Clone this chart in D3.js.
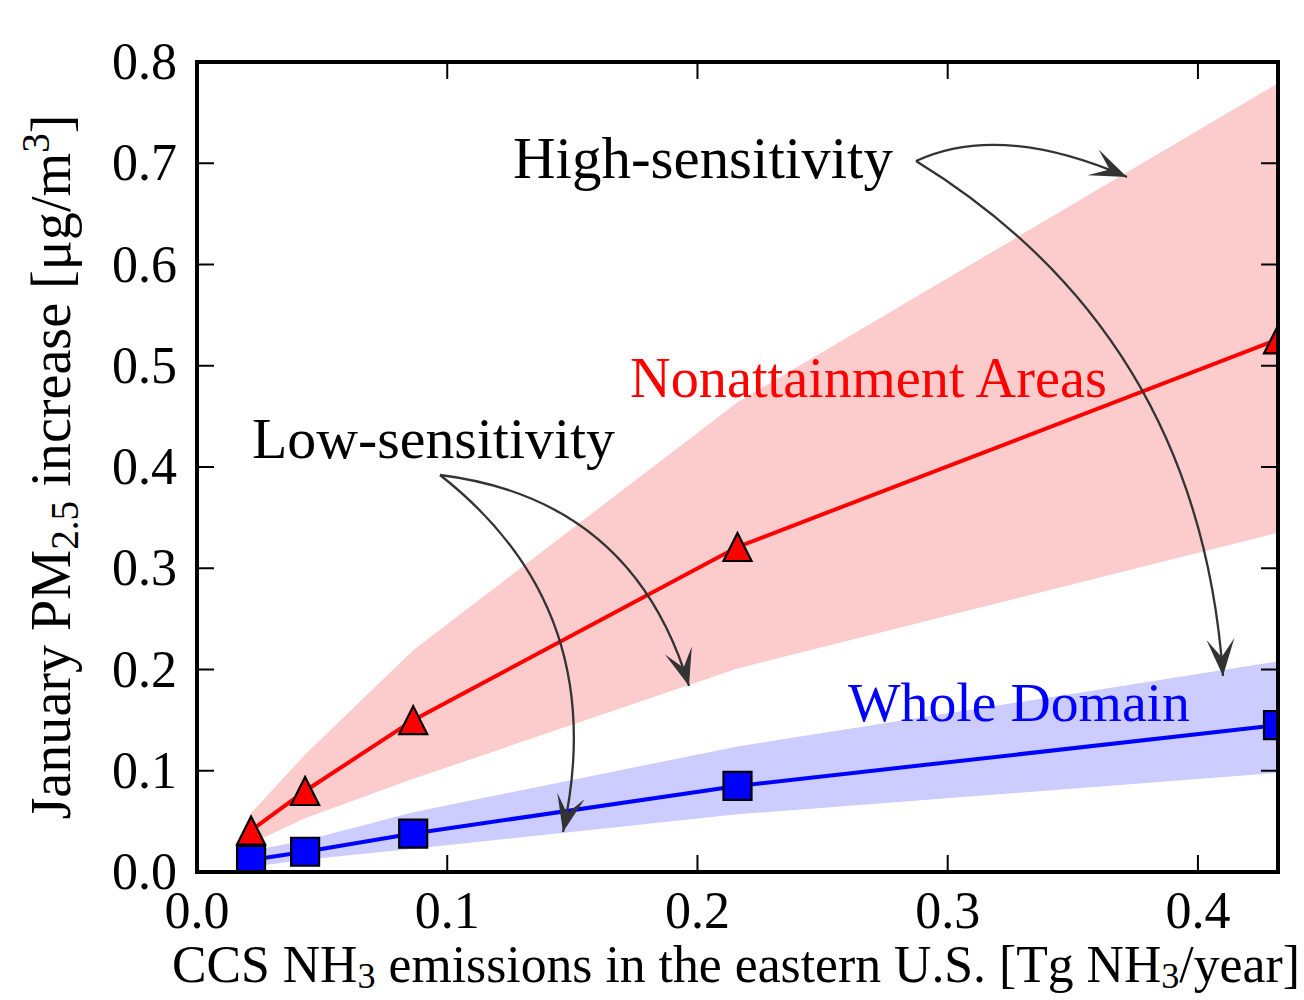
<!DOCTYPE html>
<html><head><meta charset="utf-8">
<script src="https://cdn.jsdelivr.net/npm/d3@7"></script>
<style>body{margin:0;background:#fff} svg{display:block}</style>
</head><body><svg id="chart" width="1304" height="1000"></svg>
<script>
// ---- data ----
const emissions = [0.0216, 0.0432, 0.0864, 0.216, 0.432];
const nonattainMid  = [0.041, 0.080, 0.150, 0.321, 0.526];
const nonattainLow  = [0.028, 0.053, 0.092, 0.201, 0.335];
const nonattainHigh = [0.058, 0.116, 0.219, 0.464, 0.779];
const domainMid  = [0.012, 0.020, 0.038, 0.085, 0.145];
const domainLow  = [0.005, 0.012, 0.023, 0.057, 0.098];
const domainHigh = [0.021, 0.031, 0.059, 0.124, 0.208];
const xTicks = [0.0, 0.1, 0.2, 0.3, 0.4];
const yTicks = [0.0, 0.1, 0.2, 0.3, 0.4, 0.5, 0.6, 0.7, 0.8];
const xTickLabels = ["0.0", "0.1", "0.2", "0.3", "0.4"];
const yTickLabels = ["0.0", "0.1", "0.2", "0.3", "0.4", "0.5", "0.6", "0.7", "0.8"];

const FONT = "'Liberation Serif', 'Times New Roman', serif";
const svg = d3.select("#chart");
const L = 197, R = 1278, T = 62, B = 872;
const x = d3.scaleLinear().domain([0, 0.432]).range([L, R]);
const y = d3.scaleLinear().domain([0, 0.8]).range([B, T]);

svg.append("defs").append("clipPath").attr("id", "plotclip")
  .append("rect").attr("x", L).attr("y", T).attr("width", R - L).attr("height", B - T);

const plot = svg.append("g").attr("clip-path", "url(#plotclip)");

function band(lo, hi, color) {
  const data = emissions.map((e, i) => ({x: e, lo: lo[i], hi: hi[i]}));
  plot.append("path").datum(data)
    .attr("d", d3.area().x(d => x(d.x)).y0(d => y(d.lo)).y1(d => y(d.hi)))
    .attr("fill", color).attr("stroke", "none");
}
band(nonattainLow, nonattainHigh, "#fccbcb");
band(domainLow, domainHigh, "#ccccff");

function series(vals, color, shape) {
  const data = emissions.map((e, i) => ({x: e, v: vals[i]}));
  plot.append("path").datum(data)
    .attr("d", d3.line().x(d => x(d.x)).y(d => y(d.v)))
    .attr("fill", "none").attr("stroke", color).attr("stroke-width", 4);
  const s = 14;
  plot.selectAll(null).data(data).enter().append("path")
    .attr("d", d => {
      const cx = x(d.x), cy = y(d.v);
      if (shape === "tri") return `M${cx},${cy - s}L${cx + s},${cy + s}L${cx - s},${cy + s}Z`;
      return `M${cx - s},${cy - s}H${cx + s}V${cy + s}H${cx - s}Z`;
    })
    .attr("fill", color).attr("stroke", "#000").attr("stroke-width", 2.2)
    .attr("stroke-linejoin", "miter");
}
series(nonattainMid, "#ff0000", "tri");
series(domainMid, "#0000ff", "sq");

// ---- annotations ----
function fit(sel, target) {
  const w = sel.node().getComputedTextLength();
  const fs = parseFloat(sel.attr("font-size"));
  sel.attr("font-size", fs * target / w);
}
function label(txt, px, py, width, color) {
  const t = svg.append("text").attr("x", px).attr("y", py)
    .attr("font-family", FONT).attr("font-size", 48).attr("fill", color).text(txt);
  fit(t, width);
}
label("High-sensitivity", 513, 178, 380, "#000");
label("Low-sensitivity", 252, 458, 363, "#000");
label("Nonattainment Areas", 630, 397, 477, "#ff0000");
label("Whole Domain", 848, 721, 342, "#0000ff");

function arrow(p0, c, p2) {
  svg.append("path")
    .attr("d", `M${p0[0]},${p0[1]}Q${c[0]},${c[1]} ${p2[0]},${p2[1]}`)
    .attr("fill", "none").attr("stroke", "#333").attr("stroke-width", 2.3);
  const dx = p2[0] - c[0], dy = p2[1] - c[1];
  const n = Math.hypot(dx, dy), ux = dx / n, uy = dy / n, px = -uy, py = ux;
  const Lh = 37, W = 14, N = 19;
  const bx = p2[0] - ux * Lh, by = p2[1] - uy * Lh;
  const pts = [
    [p2[0], p2[1]],
    [bx + px * W, by + py * W],
    [p2[0] - ux * N, p2[1] - uy * N],
    [bx - px * W, by - py * W]
  ];
  svg.append("path").attr("d", "M" + pts.map(p => p.join(",")).join("L") + "Z")
    .attr("fill", "#333").attr("stroke", "none");
}
arrow([916, 161], [1000, 122], [1127, 177]);
arrow([916, 161], [1199, 335], [1223, 676]);
arrow([440, 475], [633, 499], [689, 686]);
arrow([440, 475], [612, 610], [563, 832]);

// ---- axes frame and ticks ----
const ax = svg.append("g");
ax.append("rect").attr("x", L).attr("y", T).attr("width", R - L).attr("height", B - T)
  .attr("fill", "none").attr("stroke", "#000").attr("stroke-width", 4);
const TL = 17;
xTicks.forEach(v => {
  ax.append("line").attr("x1", x(v)).attr("x2", x(v)).attr("y1", B).attr("y2", B - TL)
    .attr("stroke", "#000").attr("stroke-width", 2);
  ax.append("line").attr("x1", x(v)).attr("x2", x(v)).attr("y1", T).attr("y2", T + TL)
    .attr("stroke", "#000").attr("stroke-width", 2);
});
yTicks.forEach(v => {
  ax.append("line").attr("x1", L).attr("x2", L + TL).attr("y1", y(v)).attr("y2", y(v))
    .attr("stroke", "#000").attr("stroke-width", 2);
  ax.append("line").attr("x1", R).attr("x2", R - TL).attr("y1", y(v)).attr("y2", y(v))
    .attr("stroke", "#000").attr("stroke-width", 2);
});
ax.selectAll(null).data(xTicks).enter().append("text")
  .attr("x", d => x(d)).attr("y", 928).attr("text-anchor", "middle")
  .attr("font-family", FONT).attr("font-size", 52).text((d, i) => xTickLabels[i]);
ax.selectAll(null).data(yTicks).enter().append("text")
  .attr("x", 177).attr("y", d => y(d) + 17).attr("text-anchor", "end")
  .attr("font-family", FONT).attr("font-size", 52).text((d, i) => yTickLabels[i]);

// axis titles (sub/superscripts via em-based dy)
function script(t, txt, down) {
  t.append("tspan").attr("font-size", "70%").attr("dy", (down / 0.7) + "em").text(txt);
}
const xt = svg.append("text").attr("x", 736).attr("y", 982).attr("text-anchor", "middle")
  .attr("font-family", FONT).attr("font-size", 48);
xt.append("tspan").text("CCS NH");
script(xt, "3", 0.12);
xt.append("tspan").attr("dy", "-0.12em").text(" emissions in the eastern U.S. [Tg NH");
script(xt, "3", 0.12);
xt.append("tspan").attr("dy", "-0.12em").text("/year]");
fit(xt, 1128);

const yt = svg.append("text").attr("transform", "translate(70,467) rotate(-90)")
  .attr("text-anchor", "middle").attr("font-family", FONT).attr("font-size", 48);
yt.append("tspan").text("January PM");
script(yt, "2.5", 0.15);
yt.append("tspan").attr("dy", "-0.15em").text(" increase [μg/m");
script(yt, "3", -0.38);
yt.append("tspan").attr("dy", "0.38em").text("]");
fit(yt, 705);
</script></body></html>
